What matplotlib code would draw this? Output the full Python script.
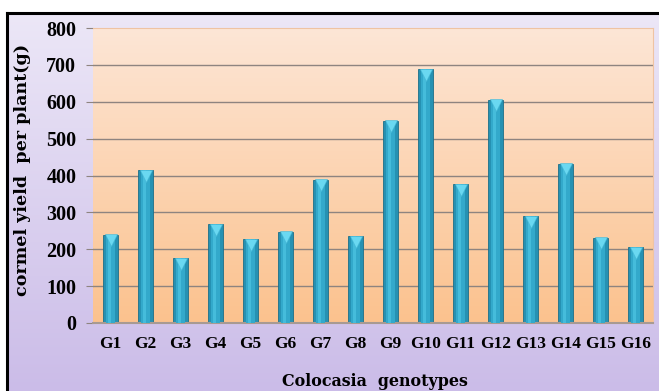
import numpy as np
import matplotlib
matplotlib.use('Agg')
from matplotlib import pyplot as plt
from matplotlib import transforms as mtransforms

# data
genotypes = ['G1', 'G2', 'G3', 'G4', 'G5', 'G6', 'G7', 'G8',
             'G9', 'G10', 'G11', 'G12', 'G13', 'G14', 'G15', 'G16']
yield_g = [240, 414, 175, 268, 227, 247, 389, 235,
           549, 688, 376, 605, 289, 432, 231, 206]
yticks = [0, 100, 200, 300, 400, 500, 600, 700, 800]

W, H = 659, 391
fig = plt.figure(figsize=(W / 100, H / 100), dpi=100)
fig.patch.set_facecolor('white')
serif = 'Liberation Serif'

# lavender gradient background with black frame
bg = fig.add_axes([7 / W, 0, 1 - 7 / W, 1 - 13 / H])
grad = np.linspace(0, 1, 256).reshape(-1, 1)
bg_cmap = matplotlib.colors.LinearSegmentedColormap.from_list('lav', ['#ECE7F7', '#CBBCE8'])
bg.imshow(grad, aspect='auto', cmap=bg_cmap, extent=[0, 1, 0, 1], origin='upper')
bg.set_xlim(0, 1)
bg.set_ylim(0, 1)
bg.set_xticks([])
bg.set_yticks([])
for s in bg.spines.values():
    s.set_color('black')
    s.set_linewidth(2.2)
bg.spines['bottom'].set_visible(False)
bg.spines['right'].set_visible(False)

ax = fig.add_axes([93 / W, 1 - 323 / H, 560 / W, 295 / H])
x = np.arange(len(genotypes))
ax.set_xlim(-0.5, len(genotypes) - 0.5)
ax.set_ylim(0, 800)

# peach gradient plot area
pa_cmap = matplotlib.colors.LinearSegmentedColormap.from_list('peach', ['#FDE6D6', '#FBC28E'])
ax.imshow(grad, aspect='auto', cmap=pa_cmap, extent=[-0.5, len(genotypes) - 0.5, 0, 800],
          origin='upper', zorder=0)

ax.set_yticks(yticks)
for yv in yticks[1:-1]:
    ax.axhline(yv, color='#8E8480', linewidth=1.0, zorder=1)

# bars with a rounded look
ax.bar(x, yield_g, width=0.42, color='#2691B2', edgecolor='#1D6F88', linewidth=0.6, zorder=2)
ax.bar(x, yield_g, width=0.24, color='#33A9CB', linewidth=0, zorder=3)
ax.bar(x - 0.03, yield_g, width=0.09, color='#45BCDB', linewidth=0, zorder=3)
tri = mtransforms.offset_copy(ax.transData, fig=fig, y=-4.0, units='points')
ax.scatter(x, yield_g, marker='v', s=75, color='#6AD8F1', edgecolors='#45B8D6',
           linewidths=0.4, transform=tri, zorder=4)

ax.set_xticks(x)
ax.set_xticklabels(genotypes)
for s in ['top', 'right']:
    ax.spines[s].set_color('#EFC3A3')
ax.spines['left'].set_visible(False)
ax.spines['bottom'].set_color('#A89A92')
ax.spines['bottom'].set_linewidth(1.5)
ax.tick_params(axis='x', length=0, pad=9)
ax.tick_params(axis='y', length=5, color='#8E8480', pad=7)
for lab in ax.get_xticklabels():
    lab.set_family(serif)
    lab.set_fontweight('bold')
    lab.set_fontsize(12.5)
for lab in ax.get_yticklabels():
    lab.set_family(serif)
    lab.set_fontweight('bold')
    lab.set_fontsize(14.5)

fig.text(375 / W, 1 - 382 / H, 'Colocasia  genotypes', ha='center', va='center',
         family='DejaVu Serif', fontweight='bold', fontsize=11.4)
fig.text(23 / W, 1 - 170 / H, 'cormel yield  per plant(g)', ha='center', va='center',
         rotation=90, family='DejaVu Serif', fontweight='bold', fontsize=12.6)

fig.savefig('out.png', dpi=100)
